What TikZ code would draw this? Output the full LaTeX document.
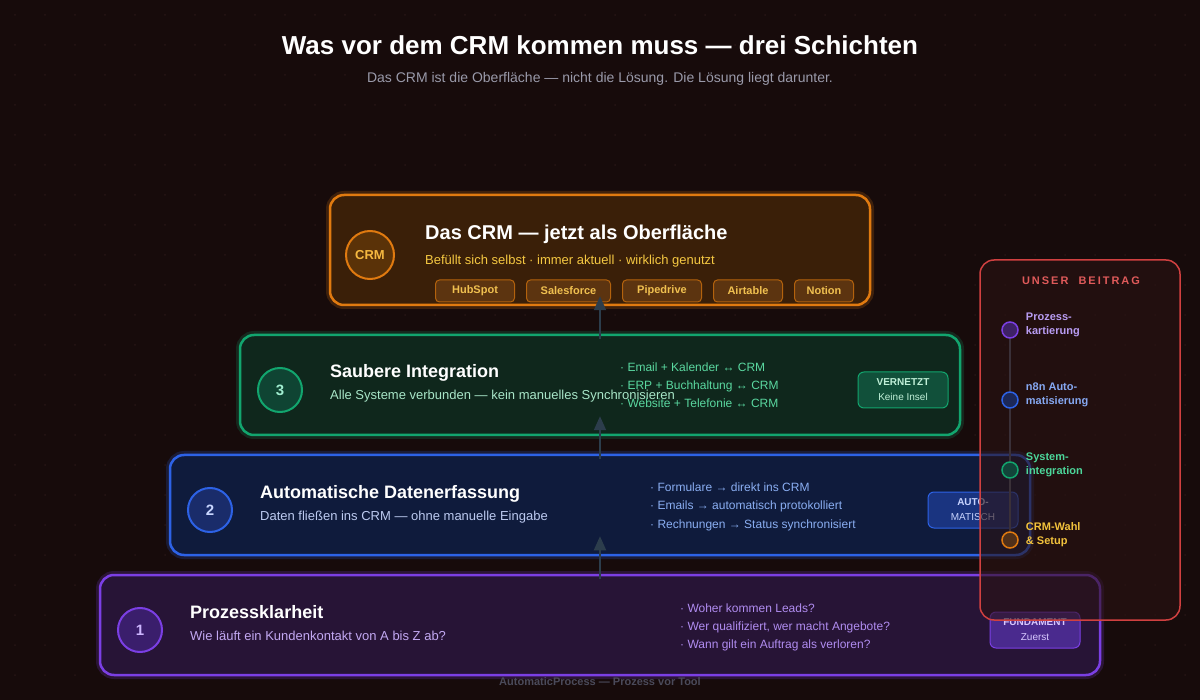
\documentclass[tikz,border=0pt]{standalone}
\usepackage{fontspec}
\setmainfont{Liberation Sans}
\newfontfamily\spacedfont[LetterSpace=18]{Liberation Sans}
\usetikzlibrary{positioning,arrows.meta}

\newcommand{\fsize}[2]{\fontsize{#1}{#2}\selectfont}

\definecolor{bg}{HTML}{170B0B}
\definecolor{dotc}{HTML}{261515}
\definecolor{headsub}{HTML}{9A9AAA}
\definecolor{flowc}{HTML}{2C3D4C}
\definecolor{footc}{HTML}{4A4A5A}
% CRM
\definecolor{crmline}{HTML}{E07A10}
\definecolor{crmfill}{HTML}{3A1F08}
\definecolor{crmdark}{HTML}{5A3208}
\definecolor{crmnum}{HTML}{F5B840}
\definecolor{crmsub}{HTML}{F5C842}
\definecolor{crmbadge}{HTML}{5C3410}
\definecolor{crmbtxt}{HTML}{F0C050}
\definecolor{crmdot}{HTML}{50301A}
\definecolor{crmside}{HTML}{F2C23C}
% integration
\definecolor{netline}{HTML}{12A56E}
\definecolor{netfill}{HTML}{0F271C}
\definecolor{netdark}{HTML}{0F4433}
\definecolor{netnum}{HTML}{A0EED0}
\definecolor{netsub}{HTML}{A8E6C8}
\definecolor{netbul}{HTML}{5AD8A0}
\definecolor{netbadge}{HTML}{11503A}
\definecolor{netbtxt}{HTML}{C0F0D8}
\definecolor{netdot}{HTML}{12443A}
\definecolor{netside}{HTML}{4CD69A}
% automation
\definecolor{autoline}{HTML}{2D62E6}
\definecolor{autofill}{HTML}{0F1B3C}
\definecolor{autodark}{HTML}{1A2C6A}
\definecolor{autonum}{HTML}{C8D6FF}
\definecolor{autosub}{HTML}{BCCAF0}
\definecolor{autobul}{HTML}{8AAEF2}
\definecolor{autobadge}{HTML}{1A3480}
\definecolor{autobtxt}{HTML}{C8D4FF}
\definecolor{autodot}{HTML}{1C2858}
\definecolor{autoside}{HTML}{86A8F2}
% process
\definecolor{procline}{HTML}{7B3FE4}
\definecolor{procfill}{HTML}{271436}
\definecolor{procdark}{HTML}{3A1E6C}
\definecolor{procnum}{HTML}{CDB6FF}
\definecolor{procsub}{HTML}{C2A8F2}
\definecolor{procbul}{HTML}{B08CF0}
\definecolor{procbadge}{HTML}{4A2A8E}
\definecolor{procbtxt}{HTML}{D8C8FF}
\definecolor{procdot}{HTML}{3E2266}
\definecolor{procside}{HTML}{B89CF2}
% panel
\definecolor{panelline}{HTML}{D04040}
\definecolor{panelfill}{HTML}{2A1212}
\definecolor{paneltitle}{HTML}{E05A5A}
\definecolor{railc}{HTML}{3A3038}

\begin{document}
\begin{tikzpicture}[x=1pt,y=-1pt,>={Triangle[width=12pt,length=14pt]},
    every node/.style={inner sep=0pt},
    layer/.style={draw=#1line,fill=#1fill,rounded corners=14pt,line width=2.5pt,
      preaction={draw=#1line,line width=8pt,opacity=0.2}},
    num/.style={circle,draw=#1line,fill=#1dark,line width=2pt,minimum size=44pt,
      text=#1num,font=\bfseries\fsize{15}{15}},
    ltitle/.style={anchor=base west,text=white,font=\bfseries\fsize{18}{18}},
    lsub/.style={anchor=base west,text=#1sub,font=\fsize{13}{13}},
    bul/.style={anchor=base west,text=#1bul,font=\fsize{12}{12}},
    badge/.style={draw=#1line,fill=#1badge,rounded corners=6pt,line width=1pt,
      minimum width=90pt,minimum height=36pt,align=center,text=#1btxt,font=\fsize{10}{15}},
    chip/.style={draw=crmline!80!black,fill=crmbadge,rounded corners=4pt,line width=1pt,
      minimum height=22pt,text=crmbtxt,font=\bfseries\fsize{11}{11}},
    flow/.style={->,draw=flowc,fill=flowc,line width=2pt},
    stepdot/.style={circle,draw=#1line,fill=#1dot,line width=1.5pt,minimum size=16pt},
    sidelabel/.style={align=left,text=#1side,font=\bfseries\fsize{11}{14}}]

  \fill[bg] (0,0) rectangle (1200,700);
  \useasboundingbox (0,0) rectangle (1200,700);
  \foreach \i in {0,...,39}
    \foreach \j in {0,...,23}
      \fill[dotc] (15+30*\i,15+30*\j) circle (1pt);

  \node[anchor=base,text=white,font=\bfseries\fsize{26}{26}] (title) at (600,55)
    {Was vor dem CRM kommen muss — drei Schichten};
  \node[anchor=base,text=headsub,font=\fsize{14}{14}] (subtitle) at (600,83)
    {Das CRM ist die Oberfläche — nicht die Lösung. Die Lösung liegt darunter.};

  % the four layers, bottom up
  \node[layer=proc,minimum width=1000pt,minimum height=100pt] (proc) at (600,625) {};
  \node[num=proc] (procnum) at (140,630) {1};
  \node[ltitle] (proctitle) at (190,618) {Prozessklarheit};
  \node[lsub=proc] (procsub) at (190,640) {Wie läuft ein Kundenkontakt von A bis Z ab?};
  \foreach \t [count=\i] in {Woher kommen Leads?,{Wer qualifiziert, wer macht Angebote?},
      Wann gilt ein Auftrag als verloren?}
    \node[bul=proc] (procb\i) at (680,594+18*\i) {· \t};
  \node[badge=proc] (procbadge) at (1035,630) {\textbf{FUNDAMENT}\\Zuerst};

  \node[layer=auto,minimum width=860pt,minimum height=100pt] (auto) at (600,505) {};
  \node[num=auto] (autonum) at (210,510) {2};
  \node[ltitle] (autotitle) at (260,498) {Automatische Datenerfassung};
  \node[lsub=auto] (autosub) at (260,520) {Daten fließen ins CRM — ohne manuelle Eingabe};
  \foreach \t [count=\i] in {Formulare → direkt ins CRM,Emails → automatisch protokolliert,
      Rechnungen → Status synchronisiert}
    \node[bul=auto] (autob\i) at (650,474+18*\i) {· \t};
  \node[badge=auto] (autobadge) at (973,510) {\textbf{AUTO-}\\MATISCH};

  \node[layer=net,minimum width=720pt,minimum height=100pt] (net) at (600,385) {};
  \node[num=net] (netnum) at (280,390) {3};
  \node[ltitle] (nettitle) at (330,378) {Saubere Integration};
  \node[lsub=net] (netsub) at (330,400) {Alle Systeme verbunden — kein manuelles Synchronisieren};
  \foreach \t [count=\i] in {Email + Kalender ↔ CRM,ERP + Buchhaltung ↔ CRM,
      Website + Telefonie ↔ CRM}
    \node[bul=net] (netb\i) at (620,354+18*\i) {· \t};
  \node[badge=net] (netbadge) at (903,390) {\textbf{VERNETZT}\\Keine Insel};

  \node[layer=crm,minimum width=540pt,minimum height=110pt] (crm) at (600,250) {};
  \node[num=crm,minimum size=48pt,font=\bfseries\fsize{13}{13}] (crmnum) at (370,255) {CRM};
  \node[ltitle,font=\bfseries\fsize{20}{20}] (crmtitle) at (425,240) {Das CRM — jetzt als Oberfläche};
  \node[lsub=crm] (crmsub) at (425,265) {Befüllt sich selbst · immer aktuell · wirklich genutzt};
  \node[chip,minimum width=79pt] (hubspot) at (475,291) {HubSpot};
  \node[chip,minimum width=84pt,right=11pt of hubspot] (salesforce) {Salesforce};
  \node[chip,minimum width=79pt,right=11pt of salesforce] (pipedrive) {Pipedrive};
  \node[chip,minimum width=69pt,right=11pt of pipedrive] (airtable) {Airtable};
  \node[chip,minimum width=59pt,right=11pt of airtable] (notion) {Notion};

  \draw[flow] ([yshift=-5pt]proc.north) -- ([yshift=20pt]auto.south);
  \draw[flow] ([yshift=-5pt]auto.north) -- ([yshift=20pt]net.south);
  \draw[flow] ([yshift=-5pt]net.north) -- ([yshift=10pt]crm.south);

  % side panel
  \node[draw=panelline,fill=panelfill,fill opacity=0.6,line width=1.5pt,rounded corners=14pt,
    minimum width=200pt,minimum height=360pt] (beitrag) at (1080,440) {};
  \node[anchor=base,text=paneltitle,font=\spacedfont\bfseries\fsize{11}{11}] (beitragtitle)
    at (1081,285) {UNSER~~BEITRAG};
  \node[stepdot=proc] (sp1) at (1010,330) {};
  \node[stepdot=auto] (sp2) at (1010,400) {};
  \node[stepdot=net] (sp3) at (1010,470) {};
  \node[stepdot=crm] (sp4) at (1010,540) {};
  \draw[railc,line width=2pt] (sp1) -- (sp2) -- (sp3) -- (sp4);
  \node[sidelabel=proc,anchor=west,right=7pt of sp1,yshift=5pt] (sl1) {Prozess-\\kartierung};
  \node[sidelabel=auto,anchor=west,right=7pt of sp2,yshift=5pt] (sl2) {n8n Auto-\\matisierung};
  \node[sidelabel=net,anchor=west,right=7pt of sp3,yshift=5pt] (sl3) {System-\\integration};
  \node[sidelabel=crm,anchor=west,right=7pt of sp4,yshift=5pt] (sl4) {CRM-Wahl\\\& Setup};

  \node[anchor=base,text=footc,font=\bfseries\fsize{11}{11}] (foot) at (600,685)
    {AutomaticProcess — Prozess vor Tool};
\end{tikzpicture}
\end{document}
